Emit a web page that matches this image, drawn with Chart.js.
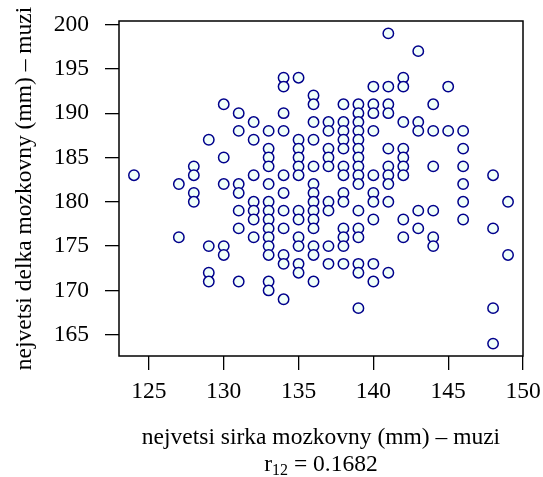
<!DOCTYPE html>
<html>
<head>
<meta charset="utf-8">
<script src="https://cdn.jsdelivr.net/npm/chart.js@4/dist/chart.umd.min.js"></script>
<style>
  html, body { margin: 0; padding: 0; background: #fff; }
  #chart { display: block; }
</style>
</head>
<body>
<canvas id="chart" width="543" height="477"></canvas>
<script>
// Data: brain-case width (x) vs length (y), men
const sirka = [
    124,
    127, 127,
    128, 128, 128, 128,
    129, 129, 129, 129,
    130, 130, 130, 130, 130,
    131, 131, 131, 131, 131, 131, 131,
    132, 132, 132, 132, 132, 132, 132,
    133, 133, 133, 133, 133, 133, 133, 133, 133, 133, 133, 133, 133, 133,
    134, 134, 134, 134, 134, 134, 134, 134, 134, 134, 134,
    135, 135, 135, 135, 135, 135, 135, 135, 135, 135, 135, 135,
    136, 136, 136, 136, 136, 136, 136, 136, 136, 136, 136, 136, 136, 136,
    137, 137, 137, 137, 137, 137, 137, 137, 137,
    138, 138, 138, 138, 138, 138, 138, 138, 138, 138, 138, 138, 138,
    139, 139, 139, 139, 139, 139, 139, 139, 139, 139, 139, 139, 139, 139, 139, 139,
    140, 140, 140, 140, 140, 140, 140, 140, 140, 140,
    141, 141, 141, 141, 141, 141, 141, 141, 141, 141,
    142, 142, 142, 142, 142, 142, 142, 142, 142,
    143, 143, 143, 143, 143,
    144, 144, 144, 144, 144, 144,
    145, 145,
    146, 146, 146, 146, 146, 146,
    148, 148, 148, 148,
    149, 149
];
const delka = [
    183,
    182, 176,
    184, 183, 181, 180,
    187, 175, 172, 171,
    191, 185, 182, 175, 174,
    190, 188, 182, 181, 179, 177, 171,
    189, 187, 183, 180, 179, 178, 176,
    188, 186, 185, 184, 182, 180, 179, 178, 177, 176, 175, 174, 171, 170,
    194, 193, 190, 188, 183, 181, 179, 177, 174, 173, 169,
    194, 187, 186, 185, 184, 183, 179, 178, 176, 175, 173, 172,
    192, 191, 189, 187, 184, 182, 181, 180, 179, 178, 177, 175, 174, 171,
    189, 188, 186, 185, 184, 180, 179, 175, 173,
    191, 189, 188, 187, 186, 184, 183, 181, 180, 177, 176, 175, 173,
    191, 190, 189, 188, 187, 186, 185, 184, 183, 182, 179, 177, 176, 173, 172, 168,
    193, 191, 190, 188, 183, 181, 180, 178, 173, 171,
    199, 193, 191, 190, 186, 184, 183, 182, 180, 172,
    194, 193, 189, 186, 185, 184, 183, 178, 176,
    197, 189, 188, 179, 177,
    191, 188, 184, 179, 176, 175,
    193, 188,
    188, 186, 184, 182, 180, 178,
    183, 177, 168, 164,
    180, 174
];

const xTicks = [125, 130, 135, 140, 145, 150];
const yTicks = [165, 170, 175, 180, 185, 190, 195, 200];

const xTitle = 'nejvetsi sirka mozkovny (mm) \u2013 muzi';
const yTitle = 'nejvetsi delka mozkovny (mm) \u2013 muzi';
const corrValue = '0.1682';

const FONT = '"Liberation Serif", "DejaVu Serif", serif';
const FONT_SIZE = 23.5;

const points = sirka.map((x, i) => ({ x: x, y: delka[i] }));

// box around the plot region, like R's bty="o"
const boxPlugin = {
    id: 'box',
    afterDraw(chart) {
        const { ctx, chartArea: a } = chart;
        ctx.save();
        ctx.strokeStyle = '#000';
        ctx.lineWidth = 1.5;
        ctx.strokeRect(a.left, a.top, a.right - a.left, a.bottom - a.top);
        ctx.restore();
    }
};

// correlation line under the x title, with subscript
const corrPlugin = {
    id: 'corr',
    afterDraw(chart) {
        const { ctx, chartArea: a } = chart;
        const cx = (a.left + a.right) / 2;
        const base = 471;
        ctx.save();
        ctx.fillStyle = '#000';
        ctx.textBaseline = 'alphabetic';
        ctx.textAlign = 'left';
        const mainFont = FONT_SIZE + 'px ' + FONT;
        const subFont = Math.round(FONT_SIZE * 0.7) + 'px ' + FONT;
        ctx.font = mainFont;
        const wr = ctx.measureText('r').width;
        const wrest = ctx.measureText(' = ' + corrValue).width;
        ctx.font = subFont;
        const wsub = ctx.measureText('12').width;
        let x = cx - (wr + wsub + wrest) / 2;
        ctx.font = mainFont;
        ctx.fillText('r', x, base);
        x += wr;
        ctx.font = subFont;
        ctx.fillText('12', x, base + 3.5);
        x += wsub;
        ctx.font = mainFont;
        ctx.fillText(' = ' + corrValue, x, base);
        ctx.restore();
    }
};

// fixed axis sizes so the plot region lands where R put it
function fixX(scale) {
    scale.height = 121;
    scale.paddingLeft = 0;
    scale.paddingRight = 0;
}
function fixY(scale) {
    scale.width = 119;
    scale.paddingTop = 0;
    scale.paddingBottom = 0;
}

new Chart(document.getElementById('chart'), {
    type: 'scatter',
    data: {
        datasets: [{
            data: points,
            pointStyle: 'circle',
            pointRadius: 5.2,
            pointBorderWidth: 1.5,
            borderColor: '#00008B',
            backgroundColor: '#F0FFFA'
        }]
    },
    options: {
        responsive: false,
        animation: false,
        devicePixelRatio: 1,
        layout: { padding: { left: 0, right: 20, top: 21, bottom: 0 } },
        plugins: {
            legend: { display: false },
            tooltip: { enabled: false }
        },
        scales: {
            x: {
                type: 'linear',
                min: 123,
                max: 150,
                afterBuildTicks: scale => { scale.ticks = xTicks.map(v => ({ value: v })); },
                afterFit: fixX,
                grid: { drawOnChartArea: false, drawTicks: true, tickLength: 14, color: '#000', lineWidth: 1.3 },
                border: { display: false },
                ticks: {
                    color: '#000',
                    padding: 8,
                    maxRotation: 0,
                    font: { family: FONT, size: FONT_SIZE }
                },
                title: {
                    display: true,
                    text: xTitle,
                    color: '#000',
                    padding: { top: 0, bottom: 25 },
                    font: { family: FONT, size: FONT_SIZE }
                }
            },
            y: {
                type: 'linear',
                min: 162.6,
                max: 200.4,
                afterBuildTicks: scale => { scale.ticks = yTicks.map(v => ({ value: v })); },
                afterFit: fixY,
                grid: { drawOnChartArea: false, drawTicks: true, tickLength: 14, color: '#000', lineWidth: 1.3 },
                border: { display: false },
                ticks: {
                    color: '#000',
                    padding: 16,
                    font: { family: FONT, size: FONT_SIZE }
                },
                title: {
                    display: true,
                    text: yTitle,
                    color: '#000',
                    padding: { top: 11, bottom: 0 },
                    font: { family: FONT, size: FONT_SIZE }
                }
            }
        }
    },
    plugins: [boxPlugin, corrPlugin]
});
</script>
</body>
</html>
